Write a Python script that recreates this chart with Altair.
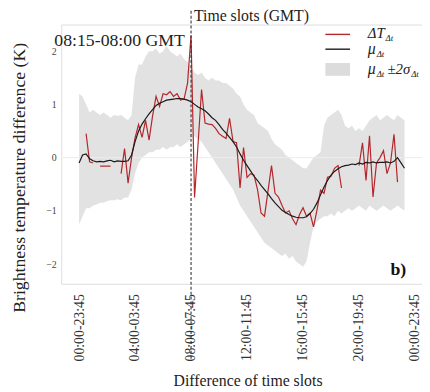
import json
import altair as alt
import pandas as pd

# ---------------- data ----------------
slots = list(range(94))  # 15-min slot index, 0 = 00:00

red_dT = [None, None, 0.45, -0.08, -0.10, None, -0.16, -0.16, -0.16, -0.16,
          None, None, -0.30, 0.17, -0.48, 0.00, 0.37, 0.62, 0.38, 0.70,
          0.33, 0.78, 1.15, 0.96, 1.20, 1.18, 1.24, 1.15, 1.20, 1.08,
          1.10, 1.40, 2.30, -0.75, 0.25, 1.28, 0.65, 0.63, 0.62, 0.55,
          0.45, 0.40, 0.36, 0.74, 0.30, 0.28, -0.57, 0.19, -0.37, -0.30,
          -0.33, -0.60, -1.04, -1.10, -0.62, -0.15, -0.67, -0.74, -0.90, -1.04,
          -1.00, -1.15, -1.26, -1.07, -0.94, -1.10, -1.04, -1.30, -0.98, -0.61,
          -0.67, -0.37, -0.35, -0.20, -0.15, -0.57, None, None, None, None,
          -0.15, 0.28, -0.43, 0.41, -0.74, -0.10, 0.00, 0.13, -0.30, -0.10,
          0.44, -0.46, None, None]

mu = [-0.10, 0.05, 0.07, -0.02, -0.06, -0.08, -0.07, -0.08, -0.06, -0.05,
      -0.08, -0.06, -0.07, -0.07, -0.06, 0.05, 0.30, 0.50, 0.63, 0.73,
      0.82, 0.90, 0.98, 1.02, 1.05, 1.08, 1.09, 1.10, 1.11, 1.11,
      1.10, 1.08, 1.05, 1.00, 0.95, 0.92, 0.88, 0.82, 0.75, 0.70,
      0.62, 0.53, 0.46, 0.38, 0.30, 0.20, 0.07, -0.05, -0.15, -0.25,
      -0.35, -0.43, -0.52, -0.60, -0.68, -0.77, -0.85, -0.92, -0.99, -1.03,
      -1.07, -1.10, -1.12, -1.13, -1.13, -1.11, -1.05, -0.97, -0.85, -0.70,
      -0.55, -0.43, -0.33, -0.26, -0.21, -0.17, -0.15, -0.14, -0.12, -0.13,
      -0.10, -0.12, -0.09, -0.10, -0.08, -0.10, -0.09, -0.09, -0.08, -0.10,
      -0.07, 0.00, -0.10, -0.20]

band_hi = [1.20, 1.15, 1.00, 0.85, 0.90, 0.85, 0.80, 0.85, 0.80, 0.75,
           0.80, 0.78, 0.80, 0.75, 0.70, 0.80, 1.50, 1.75, 1.75, 1.90,
           2.00, 2.00, 2.05, 1.95, 2.00, 2.10, 2.00, 1.95, 1.90, 1.95,
           1.85, 1.80, 1.70, 1.60, 1.55, 1.60, 1.50, 1.45, 1.50, 1.45,
           1.45, 1.40, 1.40, 1.35, 1.30, 1.20, 1.15, 1.00, 0.90, 0.85,
           0.80, 0.65, 0.60, 0.55, 0.50, 0.35, 0.25, 0.20, 0.15, 0.05,
           0.00, -0.05, -0.10, -0.15, -0.20, -0.20, -0.10, 0.00, 0.05, 0.10,
           0.60, 0.75, 0.80, 0.85, 0.90, 0.80, 0.60, 0.55, 0.60, 0.50,
           0.55, 0.50, 0.60, 0.70, 0.75, 0.80, 0.70, 0.75, 0.80, 0.75,
           0.70, 0.80, 0.75, 0.70]

band_lo = [-1.25, -1.10, -0.95, -0.95, -0.90, -0.88, -0.85, -0.85, -0.82, -0.80,
           -0.80, -0.78, -0.80, -0.75, -0.75, -0.60, -0.30, -0.10, 0.00, 0.05,
           0.10, 0.10, 0.15, 0.15, 0.20, 0.15, 0.20, 0.20, 0.25, 0.20,
           0.25, 0.30, 0.35, 0.40, 0.35, 0.30, 0.20, 0.10, 0.00, -0.10,
           -0.20, -0.30, -0.40, -0.50, -0.60, -0.75, -0.90, -1.00, -1.10, -1.20,
           -1.30, -1.40, -1.50, -1.60, -1.65, -1.70, -1.75, -1.80, -1.85, -1.80,
           -1.90, -1.85, -1.95, -2.00, -2.05, -1.95, -1.60, -1.30, -1.20, -1.15,
           -1.10, -1.10, -1.05, -1.10, -1.00, -1.05, -1.00, -0.95, -1.00, -0.95,
           -0.90, -0.95, -1.00, -0.90, -0.95, -1.00, -0.95, -0.90, -0.95, -1.00,
           -0.95, -0.90, -0.95, -1.00]

tick_slots = [0, 16, 32, 48, 64, 80, 96]
tick_labels = ["00:00-23:45", "04:00-03:45", "08:00-07:45", "12:00-11:45",
               "16:00-15:45", "20:00-19:45", "00:00-23:45"]
y_ticks = [-2, -1, 0, 1, 2]
marked_slot = 32

# ---------------- tables ----------------
band_df = pd.DataFrame({"slot": slots, "lo": band_lo, "hi": band_hi})
mu_df = pd.DataFrame({"slot": slots, "mu": mu})
rows, seg = [], 0
prev = None
for s, v in zip(slots, red_dT):
    if v is None:
        if prev is not None:
            seg += 1
        prev = None
        continue
    rows.append({"slot": s, "dT": v, "seg": seg})
    prev = v
red_df = pd.DataFrame(rows)

FONT = "Liberation Serif"
RED = "#b3262b"
one = pd.DataFrame({"a": [0]})

xscale = alt.Scale(domain=[-5.1, 98.0], nice=False, zero=False)
yscale = alt.Scale(domain=[-2.37, 2.5], nice=False, zero=False)
label_expr = json.dumps(tick_labels) + "[round(datum.value/16)]"

xaxis = alt.Axis(values=tick_slots, labelExpr=label_expr, labelAngle=270,
                 labelAlign="right", labelBaseline="middle", labelPadding=10,
                 labelFontSize=14, labelColor="#333333", labelFont=FONT,
                 labelFlush=False, labelOverlap=False, labelBound=False,
                 ticks=False, domain=False, grid=False,
                 title="Difference of time slots", titleFont=FONT,
                 titleFontSize=16, titleFontWeight="normal", titleColor="#222222",
                 titleX=189, titleY=98, titleBaseline="middle", titleAnchor="start",
                 titleAlign="center")
yaxis = alt.Axis(values=y_ticks, format="d", labelFontSize=10,
                 labelColor="#444444", labelFont=FONT, labelPadding=5,
                 ticks=False, domain=False, grid=False,
                 title="Brightness temperature difference (K)",
                 titleFont=FONT, titleFontSize=18, titleFontWeight="normal",
                 titleColor="#222222", titleX=-42, titleY=155,
                 titleBaseline="middle", titleAlign="center", titleAngle=270)

band = alt.Chart(band_df).mark_area(color="#e2e2e2", opacity=1).encode(
    x=alt.X("slot:Q", scale=xscale, axis=xaxis),
    y=alt.Y("lo:Q", scale=yscale, axis=yaxis),
    y2="hi:Q",
)

zero = alt.Chart(pd.DataFrame({"y": [0]})).mark_rule(
    color="#ececec", strokeWidth=1).encode(y=alt.Y("y:Q", scale=yscale))

red = alt.Chart(red_df).mark_line(color=RED, strokeWidth=1.2).encode(
    x=alt.X("slot:Q", scale=xscale),
    y=alt.Y("dT:Q", scale=yscale),
    detail="seg:N",
)

black = alt.Chart(mu_df).mark_line(color="#1a1a1a", strokeWidth=1.2).encode(
    x=alt.X("slot:Q", scale=xscale),
    y=alt.Y("mu:Q", scale=yscale),
)

dashed = alt.Chart(pd.DataFrame({"x": [marked_slot]})).mark_rule(
    color="#333333", strokeWidth=1.1, strokeDash=[3, 2]).encode(
    x=alt.X("x:Q", scale=xscale), y=alt.value(-14), y2=alt.value(341))


def txt(s, x, y, size, align="left", style="normal", weight="normal",
        color="#222222"):
    return alt.Chart(one).mark_text(
        text=s, font=FONT, fontSize=size, align=align, baseline="alphabetic",
        fontStyle=style, fontWeight=weight, color=color,
    ).encode(x=alt.value(x), y=alt.value(y))


def hline(x1, x2, y, color):
    return alt.Chart(one).mark_rule(color=color, strokeWidth=1.4).encode(
        x=alt.value(x1), x2=alt.value(x2), y=alt.value(y))


legend_box = alt.Chart(one).mark_rect(color="#dcdcdc").encode(
    x=alt.value(268), x2=alt.value(293), y=alt.value(39), y2=alt.value(52))

annotations = [
    txt("Time slots (GMT)", 193, -4, 16, align="center"),
    txt("08:15-08:00 GMT", -7, 22, 18),
    txt("b)", 350, 254, 18, align="right", weight="bold", color="#111111"),
    hline(268, 293, 10, RED),
    hline(268, 293, 25, "#1a1a1a"),
    legend_box,
    txt("ΔT", 311, 14, 15, style="italic"),
    txt("Δt", 329, 17, 9, style="italic"),
    txt("μ", 311, 30, 16, style="italic"),
    txt("Δt", 320, 33, 9, style="italic"),
    txt("μ", 311, 50, 16, style="italic"),
    txt("Δt", 320, 53, 9, style="italic"),
    txt("±2σ", 331, 50, 15, style="italic"),
    txt("Δt", 355, 53, 9, style="italic"),
]

chart = alt.layer(band, zero, red, black, dashed, *annotations).properties(
    width=366, height=263,
    padding={"left": 54, "top": 14, "right": 0, "bottom": 107},
    autosize=alt.AutoSizeParams(type="none"),
).configure_view(stroke="#e3e3e3", strokeWidth=1.5).configure(
    font=FONT, background="white")

chart.save("out.html", embed_options={"renderer": "svg", "actions": False})
